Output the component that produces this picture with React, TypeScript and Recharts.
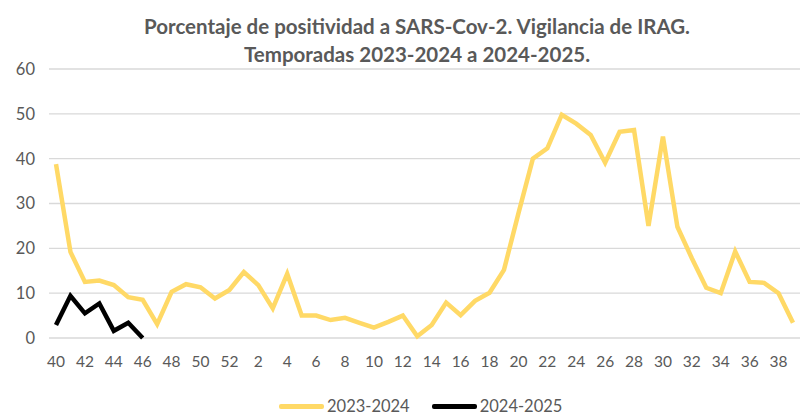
import { LineChart, Line, XAxis, YAxis, CartesianGrid } from 'recharts';

// epidemiological weeks, season starts at week 40
const weeks = [
  '40', '41', '42', '43', '44', '45', '46', '47', '48', '49', '50', '51', '52',
  '1', '2', '3', '4', '5', '6', '7', '8', '9', '10', '11', '12', '13', '14', '15',
  '16', '17', '18', '19', '20', '21', '22', '23', '24', '25', '26', '27', '28', '29',
  '30', '31', '32', '33', '34', '35', '36', '37', '38', '39',
];

const season2324 = [
  38.8, 19.2, 12.5, 12.8, 11.8, 9.1, 8.5, 3.1, 10.3, 12.0, 11.3, 8.8, 10.7,
  14.7, 11.8, 6.6, 14.3, 5.0, 5.0, 4.0, 4.5, 3.4, 2.3, 3.6, 5.0, 0.4, 2.9, 7.9,
  5.1, 8.3, 10.1, 15.2, 27.8, 40.0, 42.3, 49.8, 47.8, 45.3, 39.1, 46.0, 46.4, 25.0,
  44.9, 24.8, 17.8, 11.2, 10.0, 19.3, 12.5, 12.3, 10.0, 3.4,
];

const season2425 = [2.9, 9.4, 5.5, 7.7, 1.6, 3.4, 0];

const yTicks = [0, 10, 20, 30, 40, 50, 60];

const YELLOW = '#FFD966';
const GREY = '#595959';
const FONT = 'Lato, "Liberation Sans", sans-serif';

const data = weeks.map((w, i) => ({
  week: w,
  s1: season2324[i],
  s2: i < season2425.length ? season2425[i] : null,
}));

export default function App() {
  return (
    <div style={{ position: 'relative', width: 801, height: 418, background: '#fff', fontFamily: FONT }}>
      <style>{`body { margin: 0; }`}</style>
      <div
        style={{
          position: 'absolute',
          top: 12,
          left: 0,
          width: 834,
          textAlign: 'center',
          color: GREY,
          fontWeight: 700,
          fontSize: 20.5,
          lineHeight: '28px',
        }}
      >
        <div>Porcentaje de positividad a SARS-Cov-2. Vigilancia de IRAG.</div>
        <div>Temporadas 2023-2024 a 2024-2025.</div>
      </div>
      <LineChart width={801} height={418} data={data} margin={{ top: 69, right: 1, left: 0, bottom: 50 }}>
        <CartesianGrid vertical={false} stroke="#D9D9D9" strokeWidth={1.3} />
        <XAxis
          dataKey="week"
          interval={1}
          axisLine={false}
          tickLine={false}
          tickSize={0}
          tickMargin={18}
          height={30}
          padding={{ left: 7, right: 7 }}
          tick={{ fill: GREY, fontSize: 15.5, fontFamily: FONT }}
        />
        <YAxis
          domain={[0, 60]}
          ticks={yTicks}
          width={49}
          axisLine={false}
          tickLine={false}
          tickSize={0}
          tickMargin={14}
          tick={{ fill: GREY, fontSize: 16.5, fontFamily: FONT }}
        />
        <Line
          type="linear"
          dataKey="s1"
          stroke={YELLOW}
          strokeWidth={4.5}
          dot={false}
          isAnimationActive={false}
        />
        <Line
          type="linear"
          dataKey="s2"
          stroke="#000000"
          strokeWidth={4.5}
          dot={false}
          connectNulls={false}
          isAnimationActive={false}
        />
      </LineChart>
      <div
        style={{
          position: 'absolute',
          top: 396,
          left: 279,
          display: 'flex',
          alignItems: 'center',
          color: GREY,
          fontSize: 16.5,
        }}
      >
        <span style={{ display: 'inline-block', width: 45, height: 5, background: YELLOW, borderRadius: 2 }} />
        <span style={{ marginLeft: 3 }}>2023-2024</span>
        <span style={{ display: 'inline-block', width: 45, height: 5, background: '#000', borderRadius: 2, marginLeft: 22 }} />
        <span style={{ marginLeft: 3 }}>2024-2025</span>
      </div>
    </div>
  );
}
